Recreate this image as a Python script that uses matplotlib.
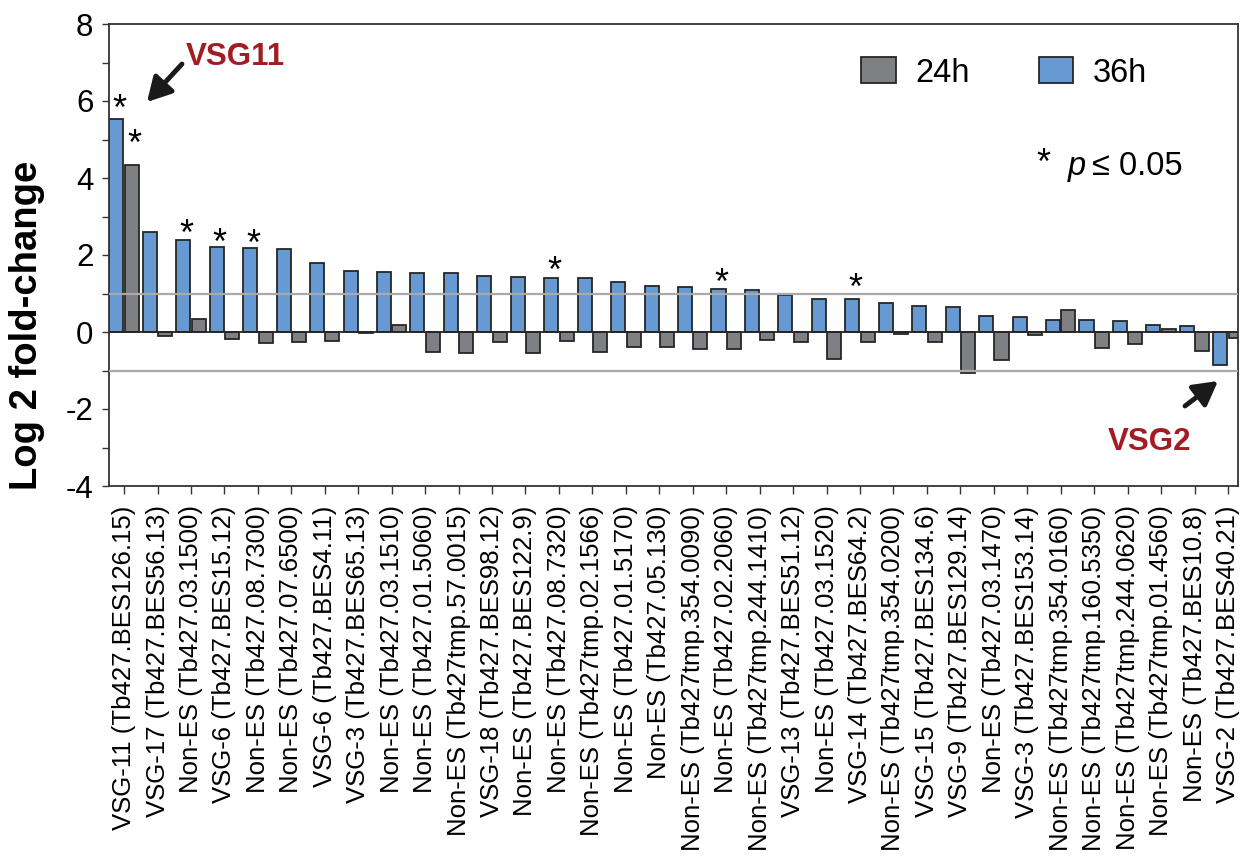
import matplotlib
matplotlib.use("Agg")
import matplotlib.pyplot as plt
import numpy as np

plt.rcParams['font.family'] = ['Liberation Sans', 'DejaVu Sans']
plt.rcParams['axes.unicode_minus'] = False

categories = [
    "VSG-11 (Tb427.BES126.15)", "VSG-17 (Tb427.BES56.13)", "Non-ES (Tb427.03.1500)",
    "VSG-6 (Tb427.BES15.12)", "Non-ES (Tb427.08.7300)", "Non-ES (Tb427.07.6500)",
    "VSG-6 (Tb427.BES4.11)", "VSG-3 (Tb427.BES65.13)", "Non-ES (Tb427.03.1510)",
    "Non-ES (Tb427.01.5060)", "Non-ES (Tb427tmp.57.0015)", "VSG-18 (Tb427.BES98.12)",
    "Non-ES (Tb427.BES122.9)", "Non-ES (Tb427.08.7320)", "Non-ES (Tb427tmp.02.1566)",
    "Non-ES (Tb427.01.5170)", "Non-ES (Tb427.05.130)", "Non-ES (Tb427tmp.354.0090)",
    "Non-ES (Tb427.02.2060)", "Non-ES (Tb427tmp.244.1410)", "VSG-13 (Tb427.BES51.12)",
    "Non-ES (Tb427.03.1520)", "VSG-14 (Tb427.BES64.2)", "Non-ES (Tb427tmp.354.0200)",
    "VSG-15 (Tb427.BES134.6)", "VSG-9 (Tb427.BES129.14)", "Non-ES (Tb427.03.1470)",
    "VSG-3 (Tb427.BES153.14)", "Non-ES (Tb427tmp.354.0160)", "Non-ES (Tb427tmp.160.5350)",
    "Non-ES (Tb427tmp.244.0620)", "Non-ES (Tb427tmp.01.4560)", "Non-ES (Tb427.BES10.8)",
    "VSG-2 (Tb427.BES40.21)",
]

h36 = [5.54, 2.60, 2.40, 2.22, 2.18, 2.15, 1.78, 1.59, 1.56, 1.54, 1.52, 1.45,
       1.44, 1.39, 1.39, 1.30, 1.19, 1.17, 1.12, 1.09, 0.95, 0.87, 0.85, 0.76,
       0.68, 0.64, 0.42, 0.38, 0.32, 0.31, 0.29, 0.17, 0.16, -0.87]
h24 = [4.34, -0.10, 0.35, -0.17, -0.28, -0.27, -0.23, -0.03, 0.19, -0.53, -0.54, -0.27,
       -0.55, -0.23, -0.51, -0.38, -0.40, -0.44, -0.43, -0.21, -0.25, -0.69, -0.25, -0.04,
       -0.27, -1.06, -0.74, -0.08, 0.56, -0.41, -0.31, 0.08, -0.49, -0.15]

# significant bars (indices)
sig_36 = [0, 2, 3, 4, 13, 18, 22]
sig_24 = [0]

BLUE = '#6799d3'
GRAY = '#7f8084'
EDGE = '#262626'
RED = '#a21d23'

W, H = 1244, 859
fig = plt.figure(figsize=(W / 100, H / 100), dpi=100)
ax = fig.add_axes([109 / W, 1 - 486 / H, (1237.7 - 109) / W, (486 - 24) / H])

x = np.arange(len(categories))
bw = 0.42
b36 = ax.bar(x + 0.22, h36, width=bw, color=BLUE, edgecolor=EDGE, linewidth=1.3, zorder=2, label='36h')
b24 = ax.bar(x + 0.68, h24, width=bw, color=GRAY, edgecolor=EDGE, linewidth=1.3, zorder=2, label='24h')

ax.axhline(0, color=EDGE, lw=1.3, zorder=2.5)
for yv in (1, -1):
    ax.axhline(yv, color='#a9a9a9', lw=1.6, zorder=3)

ax.set_xlim(0, 33.74)
ax.set_ylim(-4, 8)
ax.set_yticks(np.arange(-4, 9, 2))
ax.set_yticks(np.arange(-3, 8, 2), minor=True)
ax.tick_params(axis='y', which='both', direction='out', length=5.2, width=1.0,
               labelsize=22.5, pad=6, color='#333333')
ax.set_xticks(x + 0.45)
ax.set_xticklabels(categories, rotation=90, fontsize=18.5)
ax.tick_params(axis='x', direction='out', length=6, width=1.0, pad=8, color='#333333')
for s in ax.spines.values():
    s.set_linewidth(1.3)
    s.set_color('#333333')

# significance stars (offsets in px above bar top)
star_off36 = {0: 16, 2: 12, 3: 10, 4: 10, 13: 14, 18: 12, 22: 18}
star_off24 = {0: 27}
for i in sig_36:
    ax.annotate('*', (x[i] + 0.22, h36[i]), xytext=(2, star_off36[i] * 0.72 - 12.5),
                textcoords='offset points', ha='center', va='baseline', fontsize=26, zorder=4)
for i in sig_24:
    ax.annotate('*', (x[i] + 0.68, h24[i]), xytext=(2, star_off24[i] * 0.72 - 12.5),
                textcoords='offset points', ha='center', va='baseline', fontsize=26, zorder=4)

# legend
leg = fig.legend(handles=[b24, b36], labels=['24h', '36h'], ncol=2, frameon=False,
                 loc='center left', bbox_to_anchor=(861 / W, 1 - 73 / H),
                 fontsize=23.5, handlelength=1.07, handleheight=0.85, handletextpad=0.6,
                 columnspacing=2.1, borderpad=0, borderaxespad=0)

def fx(px):
    return px / W

def fy(py):
    return 1 - py / H

fig.text(fx(1043), fy(164), '*', fontsize=26, ha='center', va='center')
fig.text(fx(1068), fy(175), 'p', fontsize=23.5, style='italic', ha='left', va='baseline')
fig.text(fx(1092), fy(175), '\u2264 0.05', fontsize=23.5, ha='left', va='baseline')

# annotations
arrow_kw = dict(arrowstyle='-|>,head_length=0.9,head_width=0.5', lw=3.5, color='#1a1a1a',
                shrinkA=0, shrinkB=0, mutation_scale=16)
fig.text(fx(235), fy(57), 'VSG11', color=RED, fontsize=22.5, fontweight='bold', ha='center', va='center')
ax.annotate('', xy=(fx(147), fy(102)), xycoords='figure fraction',
            xytext=(fx(182), fy(64)), textcoords='figure fraction', arrowprops=arrow_kw)
fig.text(fx(1150), fy(442), 'VSG2', color=RED, fontsize=22.5, fontweight='bold', ha='center', va='center')
ax.annotate('', xy=(fx(1218), fy(381)), xycoords='figure fraction',
            xytext=(fx(1185), fy(406)), textcoords='figure fraction', arrowprops=arrow_kw)

fig.text(fx(27.5), fy(325), 'Log 2 fold-change', rotation=90, fontsize=27.5,
         fontweight='bold', ha='center', va='center')

fig.savefig('out.png', dpi=100)
